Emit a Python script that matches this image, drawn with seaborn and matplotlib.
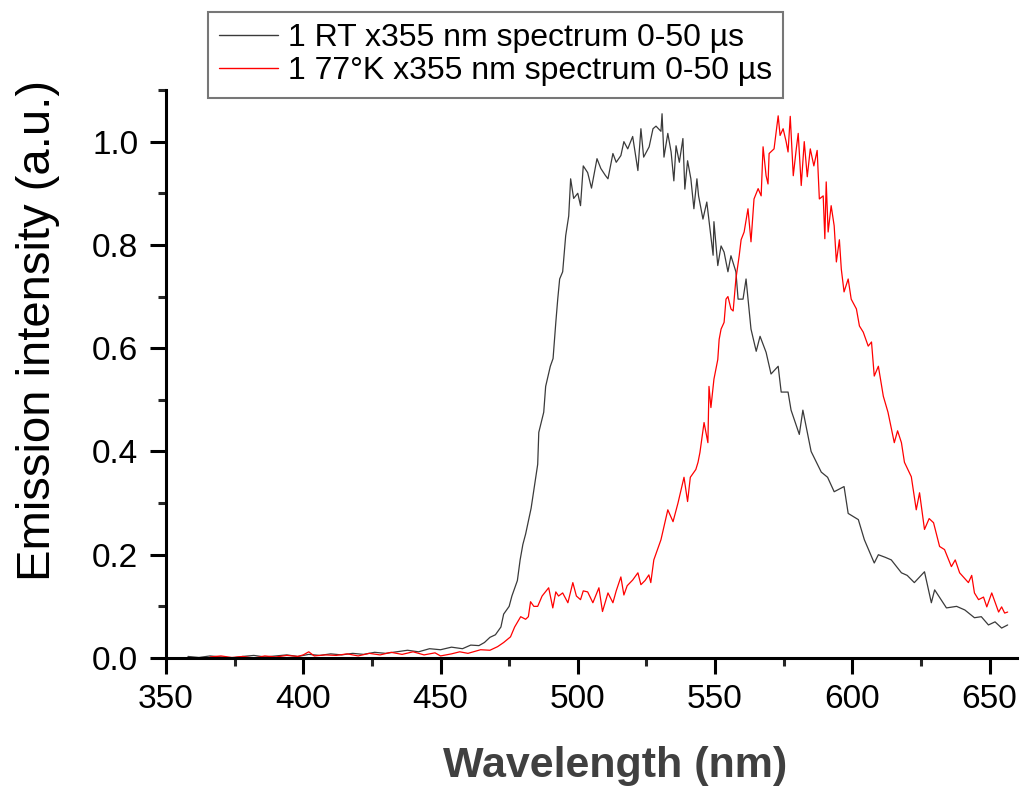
import matplotlib
matplotlib.use("Agg")
import matplotlib.pyplot as plt
import seaborn as sns
import pandas as pd

# ---- data ----
rt_wavelength = [358, 362, 366, 370, 374, 378, 382, 386, 390, 394, 398, 402, 406, 410, 414, 418, 422, 426,
                 430, 434, 438, 442, 446, 450, 454, 458, 461, 464, 466, 468, 470, 472, 473, 475, 476, 478,
                 479, 480, 481, 483, 484.7, 485.4, 485.8, 487.6, 488.3, 490, 491, 492, 492.7, 493.4, 494.5,
                 495.6, 496.7, 497.4, 498.5, 500, 501, 502, 503.6, 505, 507, 508.4, 510, 511, 512.8, 514,
                 515.7, 516.8, 518.2, 520, 521.9, 523, 524, 526, 527.4, 528.5, 530.3, 530.7, 531.4, 532.8,
                 534, 535, 535.8, 537, 538.3, 539, 540, 541.2, 542.3, 543.4, 544, 545.6, 547, 547.8, 549.3,
                 549.6, 551, 552.2, 553.3, 554.7, 555.8, 557.6, 558.4, 560.2, 561.3, 563.1, 565, 566.4,
                 568.6, 570.4, 573, 574.1, 576.6, 577.7, 580.7, 582, 585, 588.7, 591, 593.4, 597, 598.5,
                 602.2, 604.4, 608, 609.5, 612, 614.2, 617.9, 620, 622.6, 626.3, 628.8, 630, 634.3, 638,
                 641, 644.5, 647, 649.6, 652, 654.4, 656.6]
rt_intensity = [0.003, 0.001, 0.004, 0.002, 0.000, 0.003, 0.005, 0.002, 0.004, 0.006, 0.003, 0.007, 0.005,
                0.008, 0.006, 0.009, 0.007, 0.011, 0.009, 0.012, 0.015, 0.012, 0.018, 0.016, 0.021, 0.018,
                0.025, 0.024, 0.030, 0.040, 0.045, 0.060, 0.085, 0.100, 0.120, 0.150, 0.190, 0.220, 0.240,
                0.290, 0.350, 0.375, 0.437, 0.476, 0.526, 0.565, 0.580, 0.650, 0.695, 0.734, 0.748, 0.818,
                0.856, 0.928, 0.890, 0.900, 0.876, 0.953, 0.940, 0.910, 0.967, 0.948, 0.935, 0.928, 0.977,
                0.960, 0.973, 1.000, 0.986, 1.010, 0.944, 1.025, 0.970, 0.990, 1.025, 1.030, 1.020, 1.054,
                0.970, 1.016, 0.980, 0.924, 0.992, 0.960, 1.006, 0.908, 0.963, 0.928, 0.870, 0.928, 0.895,
                0.850, 0.883, 0.847, 0.780, 0.845, 0.760, 0.798, 0.786, 0.748, 0.779, 0.748, 0.695, 0.695,
                0.734, 0.637, 0.594, 0.623, 0.592, 0.550, 0.565, 0.515, 0.515, 0.480, 0.433, 0.480, 0.400,
                0.360, 0.350, 0.322, 0.332, 0.280, 0.268, 0.229, 0.184, 0.200, 0.195, 0.190, 0.165, 0.160,
                0.146, 0.167, 0.107, 0.132, 0.097, 0.100, 0.093, 0.078, 0.080, 0.064, 0.070, 0.058, 0.064]

lt_wavelength = [366, 370, 374, 378, 382, 386, 390, 394, 398, 400, 402, 404, 408, 412, 416, 420, 424, 428,
                 432, 436, 440, 444, 448, 450, 454, 457, 460, 464.6, 468, 470.8, 473, 475.5, 477, 479.2,
                 481, 482, 482.8, 484, 485.4, 487, 489.4, 490.9, 492, 493, 494.5, 496.4, 498.2, 499.5,
                 501, 502, 503.6, 505.5, 507.7, 509, 511, 512.8, 514, 515.7, 516.8, 518, 520, 521.9, 523,
                 524.5, 525.9, 526.6, 527.7, 530.3, 532.8, 534.7, 536.5, 538.7, 540, 541, 543, 543.8,
                 544.5, 546, 547.4, 547.8, 548.5, 549.6, 551, 551.5, 552.2, 553.3, 554, 554.7, 555.8,
                 556.6, 557.6, 558.8, 559.5, 560.6, 562, 563.1, 564.2, 565.7, 566.8, 567.5, 568.6, 569.3,
                 569.7, 571.5, 573, 573.7, 574.8, 575.9, 576.6, 577.4, 578.5, 579.6, 580.3, 581.4, 582.5,
                 583.6, 584.7, 586, 587.2, 588, 589.4, 590, 590.5, 591.2, 592.3, 593.4, 594.2, 595.3, 596,
                 597, 598.5, 599.6, 601.5, 602.6, 604, 605.8, 607, 608, 609.5, 611.3, 613, 615.3, 616.5,
                 617.9, 619, 621.5, 623.3, 624.5, 626.3, 628, 629.6, 631.8, 633.6, 636.1, 637.5, 639.1,
                 642.3, 643.5, 644.5, 646, 647.8, 649, 650.8, 653.3, 654.4, 655.5, 656.6]
lt_intensity = [0.002, 0.004, 0.001, 0.003, 0.000, 0.004, 0.002, 0.005, 0.003, 0.006, 0.012, 0.004, 0.006,
                0.005, 0.008, 0.004, 0.009, 0.006, 0.011, 0.007, 0.012, 0.006, 0.010, 0.004, 0.008, 0.012,
                0.009, 0.016, 0.015, 0.022, 0.030, 0.041, 0.060, 0.080, 0.075, 0.080, 0.109, 0.100, 0.100,
                0.120, 0.136, 0.097, 0.128, 0.120, 0.126, 0.107, 0.146, 0.120, 0.113, 0.130, 0.128, 0.107,
                0.136, 0.090, 0.126, 0.107, 0.130, 0.157, 0.122, 0.140, 0.151, 0.165, 0.142, 0.150, 0.161,
                0.146, 0.190, 0.229, 0.287, 0.264, 0.300, 0.350, 0.303, 0.350, 0.365, 0.379, 0.398, 0.456,
                0.417, 0.526, 0.485, 0.540, 0.578, 0.617, 0.637, 0.650, 0.695, 0.700, 0.676, 0.672, 0.734,
                0.779, 0.810, 0.825, 0.870, 0.806, 0.889, 0.909, 0.895, 0.990, 0.934, 0.918, 0.977, 0.986,
                1.050, 1.012, 1.025, 1.000, 0.980, 1.049, 0.934, 0.986, 1.016, 0.915, 1.000, 0.932, 0.986,
                0.953, 0.983, 0.889, 0.895, 0.812, 0.922, 0.825, 0.876, 0.837, 0.767, 0.810, 0.753, 0.709,
                0.734, 0.695, 0.676, 0.643, 0.631, 0.604, 0.612, 0.546, 0.565, 0.507, 0.476, 0.417, 0.440,
                0.417, 0.379, 0.351, 0.287, 0.320, 0.249, 0.270, 0.262, 0.216, 0.210, 0.177, 0.190, 0.165,
                0.146, 0.160, 0.126, 0.113, 0.118, 0.099, 0.126, 0.089, 0.099, 0.087, 0.089]

series_labels = ["1 RT x355 nm spectrum 0-50 µs", "1 77°K x355 nm spectrum 0-50 µs"]
series_colors = ["#3a3a3a", "#ff0000"]
x_ticks = [350, 400, 450, 500, 550, 600, 650]
y_ticks = [0.0, 0.2, 0.4, 0.6, 0.8, 1.0]

df = pd.concat([
    pd.DataFrame({"wl": rt_wavelength, "I": rt_intensity, "s": series_labels[0]}),
    pd.DataFrame({"wl": lt_wavelength, "I": lt_intensity, "s": series_labels[1]}),
])

sns.set_theme(style="ticks")
plt.rcParams["font.family"] = ["Liberation Sans", "DejaVu Sans"]
plt.rcParams["text.color"] = "black"

fig = plt.figure(figsize=(10.23, 7.89), dpi=100)
ax = fig.add_axes([166 / 1023, 1 - 658 / 789, (1017 - 166) / 1023, (658 - 90) / 789])

sns.lineplot(data=df, x="wl", y="I", hue="s", palette=series_colors, estimator=None,
             sort=False, linewidth=0.9, ax=ax)

ax.set_xlim(350, 660)
ax.set_ylim(0, 1.1)
ax.set_xticks(x_ticks)
ax.set_yticks(y_ticks)
ax.set_xticks([375, 425, 475, 525, 575, 625], minor=True)
ax.set_yticks([0.1, 0.3, 0.5, 0.7, 0.9, 1.1], minor=True)
ax.set_yticklabels([f"{v:.1f}" for v in y_ticks])
ax.tick_params(axis="both", which="major", direction="out", length=11.5, width=2.2,
               labelsize=24, colors="black")
ax.tick_params(axis="x", which="major", pad=7.5)
ax.tick_params(axis="y", which="major", pad=8.5)
ax.tick_params(axis="both", which="minor", direction="out", length=6, width=2.2)

for side in ["top", "right"]:
    ax.spines[side].set_visible(False)
for side in ["left", "bottom"]:
    ax.spines[side].set_linewidth(2.2)
    ax.spines[side].set_color("black")

ax.set_xlabel("Wavelength (nm)", fontsize=31, fontweight="bold", color="#404040", labelpad=22)
ax.set_ylabel("Emission intensity (a.u.)", fontsize=34, color="black", labelpad=23)
ax.xaxis.label.set_x(0.528)
ax.yaxis.label.set_y(0.576)

leg = ax.legend(loc="upper left", bbox_to_anchor=(208 / 1023, 1 - 12 / 789),
                bbox_transform=fig.transFigure, borderaxespad=0, fontsize=23,
                handlelength=1.85, handletextpad=0.3, labelspacing=0.1, borderpad=0.35,
                frameon=True, fancybox=False, title=None)
leg.get_frame().set_edgecolor("#555555")
leg.get_frame().set_linewidth(1.5)
for line in leg.get_lines():
    line.set_linewidth(1.0)
for txt in leg.get_texts():
    txt.set_color("black")

fig.savefig("out.png", dpi=100)
